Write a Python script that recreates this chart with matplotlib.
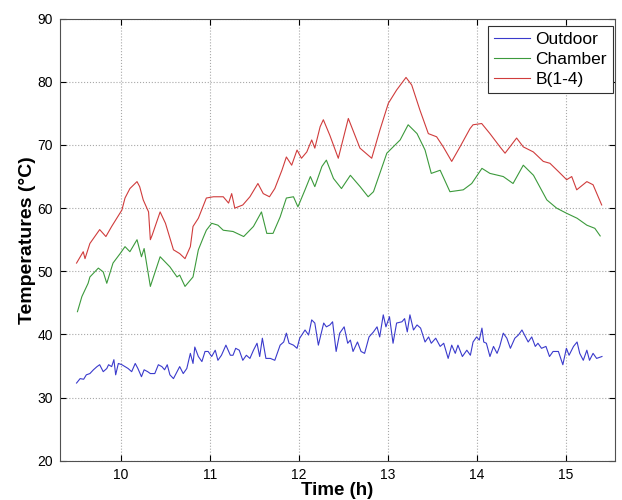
#!/usr/bin/env python3

import matplotlib
matplotlib.use('Agg')
import matplotlib.pyplot as plt

plt.rcParams['font.family'] = ['Liberation Sans', 'DejaVu Sans']

# Outdoor temperature (blue)
outdoor_t = [9.50, 9.54, 9.58, 9.61, 9.65, 9.69, 9.73, 9.76, 9.80, 9.84, 9.86, 9.895, 9.92, 9.94, 9.97,
             10.01, 10.045, 10.08, 10.12, 10.16, 10.19, 10.23, 10.26, 10.30, 10.33, 10.38, 10.42, 10.46,
             10.49, 10.52, 10.55, 10.59, 10.63, 10.66, 10.70, 10.74, 10.78, 10.81, 10.83, 10.87, 10.91,
             10.945, 10.98, 11.02, 11.06, 11.09, 11.13, 11.18, 11.23, 11.26, 11.29, 11.33, 11.37, 11.41,
             11.45, 11.49, 11.53, 11.56, 11.59, 11.63, 11.68, 11.73, 11.79, 11.83, 11.86, 11.89, 11.94,
             11.98, 12.01, 12.07, 12.11, 12.145, 12.18, 12.22, 12.28, 12.31, 12.35, 12.38, 12.42, 12.46,
             12.51, 12.55, 12.58, 12.61, 12.66, 12.70, 12.74, 12.79, 12.84, 12.88, 12.91, 12.95, 12.98,
             13.02, 13.06, 13.10, 13.16, 13.19, 13.22, 13.25, 13.29, 13.33, 13.37, 13.42, 13.46, 13.49,
             13.54, 13.59, 13.63, 13.68, 13.72, 13.76, 13.79, 13.84, 13.89, 13.93, 13.96, 14.00, 14.03,
             14.06, 14.08, 14.11, 14.15, 14.19, 14.23, 14.26, 14.30, 14.34, 14.38, 14.43, 14.47, 14.51,
             14.54, 14.58, 14.62, 14.66, 14.69, 14.73, 14.78, 14.82, 14.86, 14.92, 14.97, 15.01, 15.04,
             15.09, 15.13, 15.16, 15.20, 15.24, 15.27, 15.31, 15.35, 15.41]
outdoor = [32.3, 33.0, 32.9, 33.6, 33.8, 34.4, 34.9, 35.2, 34.1, 34.6, 35.2, 34.9, 36.0, 33.6, 35.4,
           35.2, 34.9, 34.6, 34.1, 35.4, 34.6, 33.3, 34.4, 34.1, 33.8, 33.8, 35.2, 34.9,
           34.4, 35.2, 33.6, 33.0, 34.1, 34.9, 33.8, 34.6, 37.0, 35.4, 38.0, 36.5, 35.7,
           37.3, 37.3, 36.5, 37.5, 35.9, 36.7, 38.3, 36.7, 36.7, 37.8, 37.5, 35.9, 36.7,
           36.2, 37.5, 38.6, 36.5, 39.4, 36.2, 36.2, 35.9, 38.3, 38.8, 40.2, 38.6, 38.3,
           37.8, 39.4, 40.7, 39.9, 42.3, 41.8, 38.3, 41.8, 41.2, 41.5, 42.0, 37.3, 40.2,
           41.2, 38.6, 39.1, 37.3, 38.8, 37.3, 37.0, 39.6, 40.4, 41.2, 39.6, 43.1, 41.2,
           42.8, 38.6, 41.8, 42.0, 42.5, 40.4, 43.1, 40.7, 41.5, 41.0, 38.8, 39.6, 38.6,
           39.4, 38.1, 38.6, 36.2, 38.3, 37.0, 38.3, 36.5, 37.5, 36.7, 38.8, 39.6, 39.1,
           41.0, 38.8, 38.6, 36.5, 38.1, 37.0, 38.1, 40.2, 39.4, 37.8, 39.4, 39.9, 40.7,
           39.9, 38.8, 39.6, 38.1, 38.6, 37.8, 38.1, 36.5, 37.3, 37.3, 35.2, 37.8, 36.7,
           38.1, 38.8, 37.0, 35.9, 37.5, 35.9, 37.0, 36.2, 36.5]

# Chamber temperature (green)
chamber_t = [9.51, 9.56, 9.63, 9.65, 9.745, 9.80, 9.84, 9.91, 9.99, 10.045, 10.10, 10.18, 10.23, 10.26,
             10.33, 10.44, 10.55, 10.63, 10.66, 10.72, 10.81, 10.87, 10.93, 10.96, 11.02, 11.09, 11.15,
             11.26, 11.38, 11.49, 11.58, 11.64, 11.71, 11.79, 11.86, 11.94, 11.99, 12.07, 12.13, 12.18,
             12.26, 12.31, 12.39, 12.48, 12.58, 12.69, 12.78, 12.84, 12.99, 13.14, 13.23, 13.33, 13.42,
             13.49, 13.59, 13.70, 13.85, 13.945, 14.06, 14.15, 14.30, 14.41, 14.525, 14.64, 14.79, 14.90,
             15.01, 15.13, 15.24, 15.33, 15.39]
chamber = [43.6, 46.0, 48.1, 49.1, 50.5, 49.9, 48.1, 51.3, 52.8, 53.9, 53.1, 55.0, 52.3, 53.6,
           47.6, 52.3, 50.7, 49.1, 49.4, 47.6, 49.1, 53.4, 55.5, 56.5, 57.6, 57.3, 56.5,
           56.3, 55.5, 57.1, 59.4, 56.0, 56.0, 58.6, 61.6, 61.8, 60.2, 62.9, 65.0, 63.4,
           66.6, 67.6, 64.7, 63.1, 65.2, 63.4, 61.8, 62.6, 68.7, 70.8, 73.2, 71.8, 69.2,
           65.5, 66.0, 62.6, 62.9, 63.9, 66.3, 65.5, 65.0, 63.9, 66.8, 65.2, 61.3, 60.0,
           59.2, 58.4, 57.3, 56.8, 55.6]

# B(1-4) temperature (red)
b14_t = [9.50, 9.575, 9.595, 9.65, 9.76, 9.83, 9.895, 10.01, 10.045, 10.10, 10.18, 10.21, 10.25, 10.31,
         10.33, 10.35, 10.44, 10.50, 10.59, 10.66, 10.72, 10.78, 10.81, 10.87, 10.96, 11.04, 11.15,
         11.21, 11.245, 11.28, 11.37, 11.45, 11.54, 11.60, 11.67, 11.73, 11.81, 11.86, 11.92, 11.98,
         12.03, 12.09, 12.145, 12.18, 12.24, 12.276, 12.35, 12.444, 12.557, 12.688, 12.82, 12.913,
         13.007, 13.10, 13.206, 13.27, 13.363, 13.457, 13.55, 13.625, 13.72, 13.813, 13.926, 13.96,
         14.057, 14.15, 14.263, 14.32, 14.45, 14.525, 14.638, 14.75, 14.825, 14.92, 15.013, 15.07,
         15.126, 15.24, 15.31, 15.407]
b14 = [51.3, 53.1, 52.0, 54.4, 56.6, 55.5, 57.1, 59.7, 61.6, 63.1, 64.2, 63.4, 61.3, 59.4,
       55.0, 55.7, 59.4, 57.6, 53.4, 52.8, 52.0, 53.9, 57.1, 58.4, 61.6, 61.8, 61.8,
       60.8, 62.3, 60.0, 60.5, 61.8, 63.9, 62.3, 61.8, 63.1, 66.0, 68.1, 66.8, 69.2,
       67.9, 68.9, 70.8, 69.5, 72.9, 74.0, 71.5, 67.9, 74.2, 69.5, 67.9, 72.4,
       76.6, 78.7, 80.7, 79.5, 75.5, 71.8, 71.3, 69.7, 67.4, 69.7, 72.6, 73.2,
       73.4, 71.8, 69.7, 68.7, 71.1, 69.7, 68.9, 67.4, 67.1, 65.8, 64.5, 65.0,
       62.9, 64.2, 63.7, 60.5]


def make_plot():
    fig = plt.figure(figsize=(6.22, 5.0), dpi=100)
    ax = fig.add_axes([0.0965, 0.0786, 0.892, 0.884])

    ax.plot(outdoor_t, outdoor, color='#3a3acc', lw=0.8, label='Outdoor')
    ax.plot(chamber_t, chamber, color='#3c9a3c', lw=0.8, label='Chamber')
    ax.plot(b14_t, b14, color='#d03c3c', lw=0.8, label='B(1-4)')

    ax.set_xlim(9.314, 15.555)
    ax.set_ylim(20, 90)
    ax.set_xticks([10, 11, 12, 13, 14, 15])
    ax.set_yticks([20, 30, 40, 50, 60, 70, 80, 90])
    ax.grid(True, linestyle=':', color='#a8a8a8', lw=0.8)
    ax.tick_params(direction='in', top=True, right=True, length=4, labelsize=10, pad=5)
    for s in ax.spines.values():
        s.set_color('#505050')

    ax.set_xlabel('Time (h)', fontsize=13.5, fontweight='bold', labelpad=0)
    ax.set_ylabel('Temperatures (°C)', fontsize=14, fontweight='bold', labelpad=1)

    leg = ax.legend(loc='upper right', bbox_to_anchor=(613 / 622, 1 - 25.7 / 500),
                    bbox_transform=fig.transFigure, borderaxespad=0,
                    fontsize=12.5, fancybox=False, framealpha=1,
                    edgecolor='#303030', handlelength=2.1,
                    labelspacing=0.28, borderpad=0.35, handletextpad=0.3)
    leg.get_frame().set_linewidth(0.8)

    fig.savefig('out.png', dpi=100)


def main():
    make_plot()


if __name__ == '__main__':
    main()
